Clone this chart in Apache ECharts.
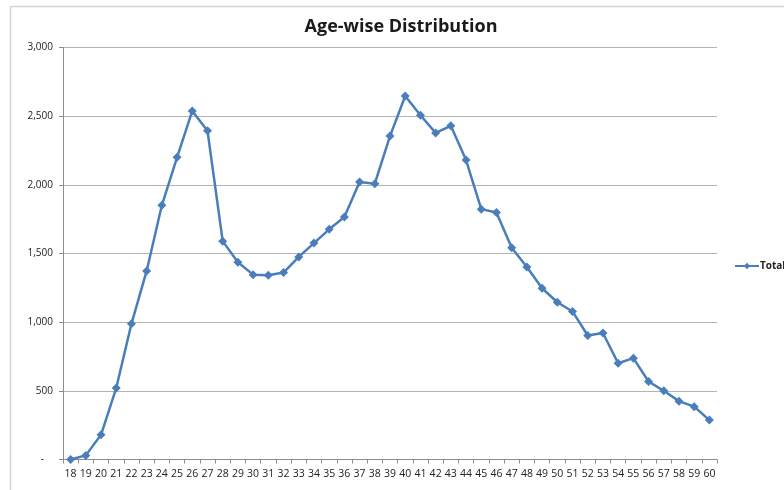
<!DOCTYPE html>
<html>
<head>
<meta charset="utf-8">
<title>Age-wise Distribution</title>
<script src="https://cdn.jsdelivr.net/npm/echarts@6/dist/echarts.min.js"></script>
<style>
  html, body { margin: 0; padding: 0; background: #fff; }
  #chart { width: 784px; height: 490px; }
</style>
</head>
<body>
<div id="chart"></div>
<script>
// Ages shown on the category axis
const ages = [
  '18','19','20','21','22','23','24','25','26','27','28','29','30','31',
  '32','33','34','35','36','37','38','39','40','41','42','43','44','45',
  '46','47','48','49','50','51','52','53','54','55','56','57','58','59','60'
];

// Total head count per age
const totals = [
  0, 30, 180, 520, 988, 1373, 1851, 2200, 2538, 2394, 1590, 1436, 1346, 1341,
  1361, 1475, 1576, 1676, 1766, 2020, 2008, 2355, 2647, 2507, 2378, 2430, 2180, 1823,
  1798, 1542, 1402, 1247, 1145, 1078, 903, 921, 701, 738, 568, 500, 425, 385, 287
];

// Value axis range
const yMin = 0;
const yMax = 3000;
const yStep = 500;

const chart = echarts.init(document.getElementById('chart'), null, { renderer: 'canvas' });

const blue = '#4A7EBB';
const font = '"Open Sans", "DejaVu Sans", sans-serif';

chart.setOption({
  animation: false,
  backgroundColor: '#ffffff',
  graphic: [{
    type: 'rect',
    shape: { x: 10.5, y: 6.5, width: 800, height: 500 },
    style: { fill: 'none', stroke: '#d4d4d4', lineWidth: 1.5 },
    silent: true,
    z: -1
  }],
  title: {
    text: 'Age-wise Distribution',
    left: 396,
    textAlign: 'center',
    top: 13,
    textStyle: { fontFamily: font, fontWeight: 'bold', fontSize: 18, color: '#1a1a1a' }
  },
  legend: {
    data: ['Total'],
    left: 729,
    top: 256,
    itemWidth: 24,
    itemHeight: 8,
    itemGap: 2,
    textStyle: { fontFamily: font, fontWeight: 'bold', fontSize: 10, color: '#222', padding: [0, 0, 0, -4] }
  },
  grid: { left: 63, right: 67, top: 47.5, bottom: 30.5, containLabel: false },
  xAxis: {
    type: 'category',
    data: ages,
    boundaryGap: true,
    axisLine: { lineStyle: { color: '#8c8c8c', width: 1 } },
    axisTick: { show: true, interval: 0, length: 4, lineStyle: { color: '#8c8c8c' } },
    axisLabel: { interval: 0, margin: 9, fontFamily: font, fontSize: 10.5, color: '#222' },
    splitLine: { show: false }
  },
  yAxis: {
    type: 'value',
    min: yMin,
    max: yMax,
    interval: yStep,
    axisLine: { show: true, lineStyle: { color: '#8c8c8c', width: 1 } },
    axisTick: { show: true, length: 4, lineStyle: { color: '#8c8c8c' } },
    axisLabel: {
      margin: 10,
      fontFamily: font,
      fontSize: 10,
      color: '#222',
      formatter: function (v) {
        return v === 0 ? '{dash|-}' : v.toLocaleString('en-US');
      },
      rich: { dash: { fontFamily: font, fontSize: 10, color: '#222', padding: [0, 9, 0, 0] } }
    },
    splitLine: { show: true, lineStyle: { color: '#b4b4b4', width: 1 } }
  },
  series: [{
    name: 'Total',
    type: 'line',
    data: totals,
    symbol: 'diamond',
    symbolSize: 9,
    lineStyle: { color: blue, width: 2.5 },
    itemStyle: { color: blue },
    emphasis: { disabled: true }
  }]
});
</script>
</body>
</html>
